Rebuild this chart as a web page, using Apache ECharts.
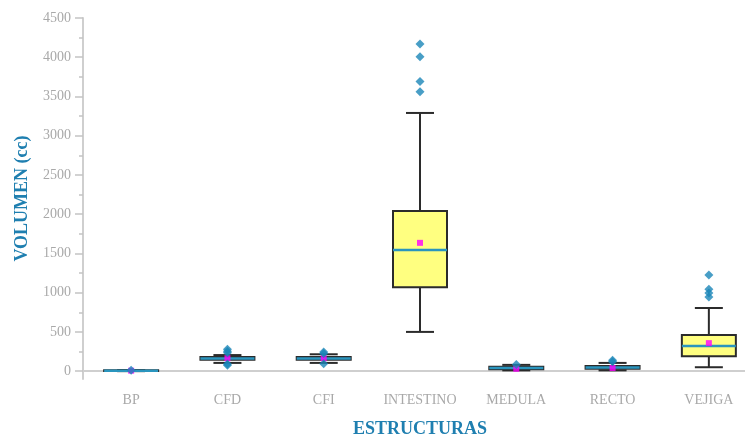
<!DOCTYPE html>
<html lang="es">
  <head>
    <meta charset="UTF-8" />
    <title>Volumen por estructura</title>
    <style>
      html, body { margin: 0; padding: 0; background: #fff; }
      #main { width: 745px; height: 436px; }
    </style>
  </head>
  <body>
    <div id="main"></div>
    <script src="https://cdn.jsdelivr.net/npm/echarts@6/dist/echarts.min.js"></script>
    <script>
      // categorias y cuartiles
      const categories = ["BP", "CFD", "CFI", "INTESTINO", "MEDULA", "RECTO", "VEJIGA"];
      const lowWhisker = [0, 105, 105, 500, 10, 10, 50];
      const q1 = [2, 145, 145, 1070, 25, 30, 190];
      const median = [6, 160, 162, 1545, 40, 48, 320];
      const q3 = [10, 180, 180, 2040, 55, 65, 460];
      const highWhisker = [15, 205, 215, 3290, 80, 105, 805];
      const means = [6, 165, 165, 1635, 30, 40, 357];
      // [indice categoria, valor]
      const outliers = [
        [0, 12],
        [1, 280], [1, 255], [1, 235], [1, 90], [1, 75],
        [2, 245], [2, 225], [2, 95],
        [3, 4170], [3, 4005], [3, 3690], [3, 3560],
        [4, 85],
        [5, 140], [5, 120],
        [6, 1225], [6, 1045], [6, 995], [6, 945]
      ];
      const majorTicks = [0, 500, 1000, 1500, 2000, 2500, 3000, 3500, 4000, 4500];
      const minorTicks = [250, 750, 1250, 1750, 2250, 2750, 3250, 3750, 4250];

      const boxData = categories.map((c, i) => [i, lowWhisker[i], q1[i], median[i], q3[i], highWhisker[i]]);
      const meanData = categories.map((c, i) => [i, means[i]]);

      const serif = "Liberation Serif";
      const blue = "#1f7fb0";
      const gray = "#a9a9a9";

      const myChart = echarts.init(document.getElementById("main"));

      function renderBox(params, api) {
        const i = api.value(0);
        const x = api.coord([i, 0])[0];
        const yLow = api.coord([i, api.value(1)])[1];
        const yQ1 = api.coord([i, api.value(2)])[1];
        const yMed = api.coord([i, api.value(3)])[1];
        const yQ3 = api.coord([i, api.value(4)])[1];
        const yHigh = api.coord([i, api.value(5)])[1];
        const half = 27;
        const cap = 14;
        const dark = { stroke: "#2b2b2b", lineWidth: 2 };
        return {
          type: "group",
          children: [
            { type: "line", shape: { x1: x, y1: yQ3, x2: x, y2: yHigh }, style: dark },
            { type: "line", shape: { x1: x, y1: yQ1, x2: x, y2: yLow }, style: dark },
            { type: "line", shape: { x1: x - cap, y1: yHigh, x2: x + cap, y2: yHigh }, style: dark },
            { type: "line", shape: { x1: x - cap, y1: yLow, x2: x + cap, y2: yLow }, style: dark },
            {
              type: "rect",
              shape: { x: x - half, y: yQ3, width: half * 2, height: yQ1 - yQ3 },
              style: { fill: "#ffff80", stroke: "#2b2b2b", lineWidth: 2 }
            },
            {
              type: "line",
              shape: { x1: x - half, y1: yMed, x2: x + half, y2: yMed },
              style: { stroke: "#2a95be", lineWidth: 2.5 }
            }
          ]
        };
      }

      const option = {
        animation: false,
        grid: { left: 83, right: -12, top: 18, bottom: 57, outerBoundsMode: "none", containLabel: false },
        xAxis: {
          type: "category",
          data: categories,
          boundaryGap: true,
          name: "ESTRUCTURAS",
          nameLocation: "middle",
          nameGap: 41,
          nameTextStyle: { color: blue, fontFamily: serif, fontWeight: "bold", fontSize: 18 },
          axisLine: { lineStyle: { color: "#cfcfcf", width: 2 } },
          axisTick: { alignWithLabel: true, length: 6, lineStyle: { color: "#c4c4c4", width: 2 } },
          axisLabel: { interval: 0, color: gray, fontFamily: serif, fontSize: 14, margin: 14 }
        },
        yAxis: [
          {
            type: "value",
            position: "left",
            min: -100,
            max: 4500,
            name: "VOLUMEN (cc)",
            nameLocation: "middle",
            nameRotate: 90,
            nameGap: 52,
            nameTextStyle: { color: blue, fontFamily: serif, fontWeight: "bold", fontSize: 18 },
            splitLine: { show: false },
            axisLine: { show: true, lineStyle: { color: "#cfcfcf", width: 2 } },
            axisTick: { show: true, customValues: majorTicks, length: 8, lineStyle: { color: "#c4c4c4", width: 1.5 } },
            axisLabel: {
              customValues: majorTicks,
              formatter: (v) => String(v),
              color: gray,
              fontFamily: serif,
              fontSize: 14,
              margin: 12
            }
          },
          {
            type: "value",
            position: "left",
            min: -100,
            max: 4500,
            splitLine: { show: false },
            axisLine: { show: false },
            axisTick: { show: true, customValues: minorTicks, length: 4, lineStyle: { color: "#c4c4c4", width: 1.5 } },
            axisLabel: { show: false }
          }
        ],
        series: [
          {
            type: "custom",
            renderItem: renderBox,
            data: boxData,
            encode: { x: 0, y: [1, 2, 3, 4, 5] },
            z: 2
          },
          {
            type: "scatter",
            data: meanData,
            symbol: "rect",
            symbolSize: 6,
            itemStyle: { color: "#ff00ff" },
            z: 3
          },
          {
            type: "scatter",
            data: outliers,
            symbol: "diamond",
            symbolSize: 9,
            itemStyle: { color: "#1a86b8" },
            z: 4
          }
        ]
      };
      myChart.setOption(option);
    </script>
  </body>
</html>
